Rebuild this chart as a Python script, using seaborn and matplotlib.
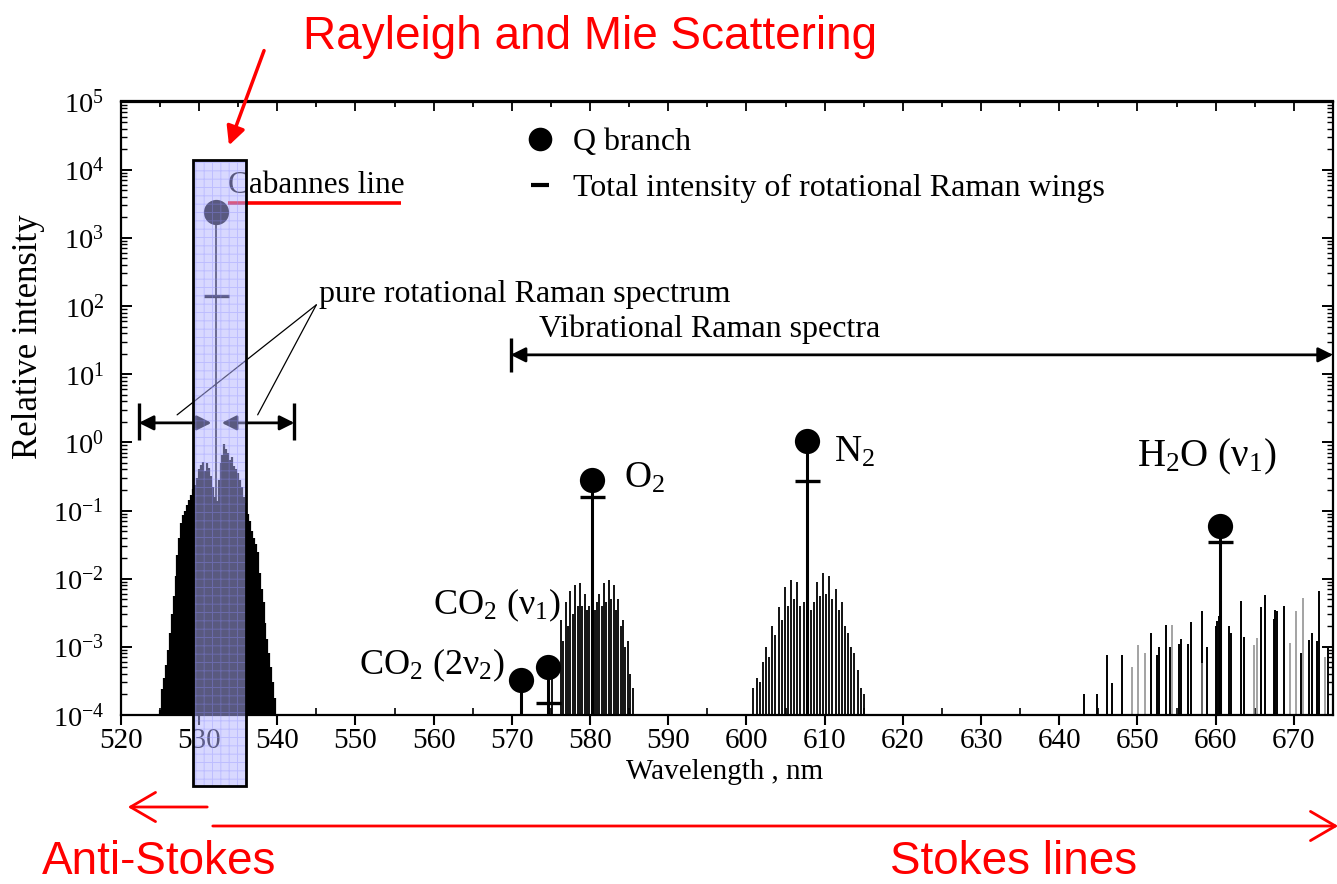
import numpy as np
import pandas as pd
import seaborn as sns
import matplotlib.pyplot as plt
from matplotlib import transforms
from matplotlib.lines import Line2D
from matplotlib.patches import Rectangle, FancyArrowPatch
from matplotlib.ticker import MultipleLocator, LogLocator, NullFormatter

# Pure rotational Raman lines on both sides of the 532 nm exciting line
rot_wl = [525.00, 525.25, 525.50, 525.75, 526.00, 526.25, 526.50, 526.75,
          527.00, 527.25, 527.50, 527.75, 528.00, 528.25, 528.50, 528.75,
          529.00, 529.25, 529.50, 529.75, 530.00, 530.25, 530.50, 530.75,
          531.00, 531.25, 531.50, 531.75, 532.00, 532.25,
          532.50, 532.75, 533.00, 533.25, 533.50, 533.75, 534.00, 534.25,
          534.50, 534.75, 535.00, 535.25, 535.50, 535.75, 536.00, 536.25,
          536.50, 536.75, 537.00, 537.25, 537.50, 537.75, 538.00, 538.25,
          538.50, 538.75, 539.00, 539.25, 539.50, 539.75]
rot_I = [1.2e-4, 2.4e-4, 3.5e-4, 5.5e-4, 9.0e-4, 1.6e-3, 3.0e-3, 5.5e-3,
         1.1e-2, 2.2e-2, 4.0e-2, 6.5e-2, 8.5e-2, 1.0e-1, 1.2e-1, 1.45e-1,
         1.7e-1, 2.1e-1, 2.4e-1, 3.0e-1, 4.0e-1, 4.6e-1, 5.2e-1, 3.8e-1,
         5.0e-1, 4.2e-1, 3.2e-1, 2.2e-1, 1.6e-1, 1.4e-1,
         2.8e-1, 5.0e-1, 6.5e-1, 9.5e-1, 8.0e-1, 7.0e-1, 5.5e-1, 6.0e-1,
         4.5e-1, 4.0e-1, 3.5e-1, 2.8e-1, 2.2e-1, 1.6e-1, 1.3e-1, 9.0e-2,
         7.0e-2, 5.0e-2, 4.0e-2, 3.2e-2, 2.5e-2, 1.2e-2, 7.0e-3, 4.5e-3,
         2.2e-3, 1.3e-3, 8.0e-4, 5.0e-4, 3.0e-4, 1.8e-4]

# O2 vibrational-rotational wings
o2_wl = [575.2, 576.3, 576.6, 576.9, 577.2, 577.5, 577.8, 578.1, 578.4, 578.7,
         579.0, 579.3, 579.6, 579.9, 580.6, 580.9, 581.2, 581.5, 581.8, 582.1,
         582.4, 582.7, 583.0, 583.3, 583.6, 583.9, 584.2, 584.5, 584.8, 585.1,
         585.5]
o2_I = [3.7e-4, 2.5e-3, 1.2e-3, 4.5e-3, 2.0e-3, 6.5e-3, 3.0e-3, 8.0e-3, 4.0e-3, 8.5e-3,
        4.0e-3, 6.0e-3, 3.5e-3, 4.0e-3, 3.5e-3, 4.5e-3, 6.0e-3, 4.0e-3, 8.5e-3, 4.5e-3,
        9.5e-3, 5.0e-3, 8.0e-3, 3.5e-3, 5.0e-3, 2.0e-3, 2.5e-3, 1.0e-3, 1.2e-3, 4.0e-4,
        2.5e-4]

# N2 vibrational-rotational wings
n2_wl = [600.9, 601.3, 601.7, 602.1, 602.5, 602.9, 603.3, 603.7, 604.1, 604.5,
         604.9, 605.3, 605.7, 606.1, 606.5, 606.9, 607.3, 608.2, 608.6, 609.0,
         609.4, 609.8, 610.2, 610.6, 611.0, 611.4, 611.8, 612.2, 612.6, 613.0,
         613.4, 613.8, 614.2, 614.6, 615.0]
n2_I = [2.5e-4, 3.5e-4, 3.0e-4, 6.0e-4, 1.0e-3, 7.0e-4, 2.0e-3, 1.5e-3, 3.8e-3, 2.5e-3,
        7.5e-3, 4.0e-3, 9.5e-3, 5.0e-3, 9.0e-3, 4.0e-3, 4.5e-3, 3.5e-3, 4.5e-3, 9.0e-3,
        5.5e-3, 1.2e-2, 6.0e-3, 1.1e-2, 5.0e-3, 7.0e-3, 3.5e-3, 4.5e-3, 2.0e-3, 1.6e-3,
        1.0e-3, 8.0e-4, 4.5e-4, 2.5e-4, 2.0e-4]

# H2O (v1) rotational structure: strong and faint lines
h2o_wl = [643.1, 644.8, 646.1, 646.8, 648.0, 651.7, 652.5, 652.7, 653.6, 654.1,
          655.3, 655.6, 656.5, 656.8, 658.3, 658.9, 660.0, 660.2, 660.4, 661.7,
          661.9, 663.2, 663.6, 665.8, 666.3, 667.4, 667.6, 667.8, 668.7, 670.9,
          671.9, 672.3, 672.9, 673.2, 674.4]
h2o_I = [2.0e-4, 2.0e-4, 7.6e-4, 2.9e-4, 7.6e-4, 1.6e-3, 7.6e-4, 1.0e-3, 2.1e-3, 1.0e-3,
         1.1e-3, 1.3e-3, 1.1e-3, 2.3e-3, 3.3e-3, 1.0e-3, 2.0e-3, 2.4e-3, 2.8e-3, 2.0e-3,
         1.6e-3, 4.7e-3, 1.4e-3, 3.8e-3, 5.8e-3, 2.6e-3, 3.5e-3, 3.4e-3, 4.0e-3, 8.1e-4,
         1.26e-3, 1.6e-3, 1.2e-3, 6.7e-3, 9.6e-4]
h2o_faint_wl = [649.3, 650.1, 650.9, 654.4, 658.2, 664.9, 665.3, 669.5, 670.3, 671.2, 674.0]
h2o_faint_I = [5.1e-4, 1.07e-3, 8.1e-4, 2.1e-3, 5.8e-4, 1.07e-3, 1.35e-3, 1.14e-3, 3.3e-3,
               5.2e-3, 7.2e-4]

# Q branches: Cabannes, CO2(2v2), CO2(v1), O2, N2, H2O(v1)
q_wl = [532.2, 571.2, 574.6, 580.2, 607.7, 660.6]
q_I = [2400, 3.3e-4, 5.1e-4, 0.28, 1.05, 0.059]
# total intensity of the rotational Raman wings
wing_wl = [532.2, 574.6, 580.2, 607.7, 660.6]
wing_I = [140, 1.5e-4, 0.16, 0.27, 0.034]

x_ticks = [520, 530, 540, 550, 560, 570, 580, 590, 600, 610, 620, 630, 640, 650, 660, 670]

sns.set_theme(style="ticks")
plt.rcParams.update({
    "font.family": ["Liberation Serif", "DejaVu Serif"],
    "mathtext.fontset": "custom",
    "mathtext.rm": "Liberation Serif",
    "mathtext.it": "Liberation Serif:italic",
    "mathtext.bf": "Liberation Serif:bold",
    "hatch.linewidth": 0.7,
    "axes.linewidth": 1.6,
    "axes.edgecolor": "black",
    "axes.labelcolor": "black",
    "xtick.color": "black",
    "ytick.color": "black",
    "xtick.labelcolor": "black",
    "ytick.labelcolor": "black",
    "text.color": "black",
})

W, H = 1337, 884
fig = plt.figure(figsize=(W / 100, H / 100), dpi=100)
ax = fig.add_axes([120.8 / W, 1 - 715 / H, (1333 - 120.8) / W, (715 - 101.5) / H])
ax.set_yscale("log")
ax.set_xlim(520, 675)
ax.set_ylim(1e-4, 1e5)


def to_fig(px, py):
    return (px / W, 1 - py / H)


BASE = 1e-4
ax.vlines(rot_wl, BASE, rot_I, color="black", lw=1.6, zorder=2)
ax.vlines(o2_wl, BASE, o2_I, color="black", lw=1.3, zorder=2)
ax.vlines(n2_wl, BASE, n2_I, color="black", lw=1.3, zorder=2)
ax.vlines(h2o_wl, BASE, h2o_I, color="black", lw=1.4, zorder=2)
ax.vlines(h2o_faint_wl, BASE, h2o_faint_I, color="#8a8a8a", lw=1.1, zorder=2)

# Q-branch stems
ax.vlines(q_wl[:1], BASE, q_I[:1], color="black", lw=1.2, zorder=3)
ax.vlines(q_wl[1:], BASE, q_I[1:], color="black", lw=2.2, zorder=3)

q_df = pd.DataFrame({"wl": q_wl, "I": q_I})
sns.scatterplot(data=q_df, x="wl", y="I", ax=ax, s=330, color="black",
                linewidth=0, zorder=4, legend=False)
ax.plot(wing_wl, wing_I, ls="none", marker="_", ms=18, mew=2.4,
        color="black", zorder=4)

# span arrows
arrow_kw = dict(arrowstyle="<|-|>", color="black", lw=2.0, mutation_scale=22,
                shrinkA=0, shrinkB=0)
ax.annotate("", xy=(522.3, 1.93), xytext=(531.6, 1.93), arrowprops=arrow_kw)
ax.annotate("", xy=(532.9, 1.93), xytext=(542.2, 1.93), arrowprops=arrow_kw)
ax.vlines([522.3, 542.2], 1.08, 3.8, color="black", lw=2.4)
ax.annotate("", xy=(569.85, 19.2), xytext=(675, 19.2), arrowprops=arrow_kw,
            annotation_clip=False)
ax.vlines([569.85], 10.7, 34, color="black", lw=2.4)

# leader lines to the rotational wings
ax.plot([545.0, 527.2], [104, 2.53], color="black", lw=0.9)
ax.plot([545.0, 537.5], [104, 2.53], color="black", lw=0.9)

# text annotations
ax.text(533.7, 5800, "Cabannes line", fontsize=22.5, ha="left", va="center")
ax.text(545.4, 146, "pure rotational Raman spectrum", fontsize=23,
        ha="left", va="center")
ax.text(573.5, 45, "Vibrational Raman spectra", fontsize=23,
        ha="left", va="center")
ax.text(584.4, 0.215, "O$_2$", fontsize=27, ha="left", va="baseline")
ax.text(611.2, 0.52, "N$_2$", fontsize=27, ha="left", va="baseline")
ax.text(650.0, 0.44, "H$_2$O (ν$_1$)", fontsize=28, ha="left", va="baseline")
ax.text(559.9, 2.95e-3, "CO$_2$ (ν$_1$)", fontsize=26, ha="left", va="baseline")
ax.text(550.5, 3.9e-4, "CO$_2$ (2ν$_2$)", fontsize=26, ha="left", va="baseline")

# underline of the Cabannes label
ax.plot([533.7, 555.8], [3240, 3240], color="red", lw=2.6,
        solid_capstyle="butt", zorder=3)

# ticks and axes
ax.set_xticks(x_ticks)
ax.xaxis.set_minor_locator(MultipleLocator(5))
ax.yaxis.set_major_locator(LogLocator(base=10, numticks=20))
ax.yaxis.set_minor_locator(LogLocator(base=10, subs=np.arange(2, 10), numticks=20))
ax.yaxis.set_minor_formatter(NullFormatter())
ax.tick_params(axis="x", which="major", direction="out", length=7, width=1.5,
               labelsize=21, pad=2)
ax.tick_params(axis="x", which="minor", direction="in", length=5, width=1.2)
ax.tick_params(axis="y", which="both", direction="in", left=True, right=True,
               labelsize=20.5, pad=12)
ax.tick_params(axis="y", which="major", length=8, width=1.4)
ax.tick_params(axis="y", which="minor", length=4, width=1.0)
top = ax.secondary_xaxis("top")
top.set_xticks(x_ticks)
top.xaxis.set_minor_locator(MultipleLocator(5))
top.tick_params(axis="x", which="both", direction="in", labeltop=False,
                labelbottom=False, width=1.3)
top.tick_params(axis="x", which="major", length=7)
top.tick_params(axis="x", which="minor", length=4)

ax.set_xlabel("Wavelength , nm", fontsize=21)
ax.xaxis.set_label_coords(0.498, -0.072)
ax.set_ylabel("Relative intensity", fontsize=25)
ax.yaxis.set_label_coords(-0.0625, 0.616)

# legend
handles = [Line2D([], [], ls="none", marker="o", ms=17, color="black", mew=0),
           Line2D([], [], ls="none", marker="_", ms=13, mew=3, color="black")]
fig.legend(handles, ["Q branch", "Total intensity of rotational Raman wings"],
           loc="upper left", bbox_to_anchor=to_fig(523, 128), frameon=False,
           fontsize=23, handlelength=1.05, handletextpad=0.5, labelspacing=0.52,
           borderpad=0, borderaxespad=0)

# highlight of the Rayleigh / Mie region
blend = transforms.blended_transform_factory(ax.transData, fig.transFigure)
y0, y1 = 1 - 786 / H, 1 - 160 / H
x0, x1 = 529.18, 535.95
ax.add_patch(Rectangle((x0, y0), x1 - x0, y1 - y0, transform=blend,
                       facecolor=(0.70, 0.70, 1.0), alpha=0.5, edgecolor="none",
                       zorder=10, clip_on=False))
ax.add_patch(Rectangle((x0, y0), x1 - x0, y1 - y0, transform=blend,
                       facecolor="none", edgecolor=(0.55, 0.55, 1.0), hatch="++",
                       lw=0, alpha=0.35, zorder=11, clip_on=False))
ax.add_patch(Rectangle((x0, y0), x1 - x0, y1 - y0, transform=blend,
                       fill=False, edgecolor="black", lw=2.0, zorder=12,
                       clip_on=False))

# red annotations
red_font = ["Liberation Sans", "DejaVu Sans"]
fig.text(*to_fig(303, 37), "Rayleigh and Mie Scattering", color="red",
         fontsize=33, family=red_font, ha="left", va="center")
fig.text(*to_fig(42, 862), "Anti-Stokes", color="red", fontsize=33,
         family=red_font, ha="left", va="center")
fig.text(*to_fig(890, 862), "Stokes lines", color="red", fontsize=33,
         family=red_font, ha="left", va="center")
fig.add_artist(FancyArrowPatch(to_fig(265, 48), to_fig(228, 148),
                               transform=fig.transFigure, arrowstyle="-|>",
                               mutation_scale=28, lw=2.5, color="red"))
fig.add_artist(FancyArrowPatch(to_fig(210, 807), to_fig(125, 807),
                               transform=fig.transFigure,
                               arrowstyle="->,head_length=0.6,head_width=0.35",
                               mutation_scale=30, lw=2.0, color="red"))
fig.add_artist(FancyArrowPatch(to_fig(210, 826), to_fig(1341, 826),
                               transform=fig.transFigure,
                               arrowstyle="->,head_length=0.6,head_width=0.35",
                               mutation_scale=30, lw=2.0, color="red"))

fig.savefig("out.png", dpi=100, facecolor="white")
